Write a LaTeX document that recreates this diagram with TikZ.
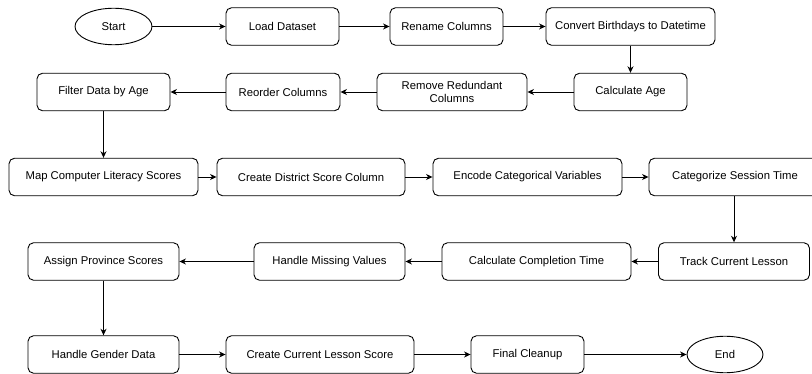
\documentclass[tikz,border=0pt]{standalone}
\usepackage{fontspec}
\setmainfont{Liberation Sans}
\usepackage{tikz}
\usetikzlibrary{
  arrows.meta,
  positioning,
  shapes.geometric
}
\tikzset{
  stepbox/.style={draw, rounded corners=5.5pt, line width=0.9pt,
    minimum height=37.5pt, inner sep=0pt,
    align=center, font=\fontsize{11.3}{12.5}\selectfont},
  termnode/.style={draw, ellipse, line width=0.9pt,
    minimum width=77pt, minimum height=36.5pt, inner sep=0pt,
    font=\fontsize{11.3}{12.5}\selectfont},
  arr/.style={-{Stealth[length=6.5pt, width=6pt, inset=2pt]}, line width=0.9pt},
}

\begin{document}
\begin{tikzpicture}[x=1pt, y=-1pt]
  \useasboundingbox (0,0) rectangle (812,374);

  % Row 1: start and loading
  \node[termnode] (start) at (113.5,26.5) {Start};
  \node[stepbox, minimum width=113pt] (load) at (282.5,26.5) {Load Dataset};
  \node[stepbox, minimum width=113pt] (rename) at (446.5,26.5) {Rename Columns};
  \node[stepbox, minimum width=169pt] (convert) at (630.5,26.5) {Convert Birthdays to Datetime};

  % Row 2: back to the left
  \node[stepbox, minimum width=113pt] (calcage) at (630.5,92) {Calculate Age};
  \node[stepbox, minimum width=150pt] (remove) at (452,92) {Remove Redundant\\Columns};
  \node[stepbox, minimum width=114pt] (reorder) at (283,92) {Reorder Columns};
  \node[stepbox, minimum width=133pt] (filter) at (103.5,92) {Filter Data by Age};

  % Row 3: scores and encoding
  \node[stepbox, minimum width=189pt] (mapcl) at (103.5,177) {Map Computer Literacy Scores};
  \node[stepbox, minimum width=188pt] (district) at (311,177) {Create District Score Column};
  \node[stepbox, minimum width=189pt] (encode) at (527.5,177) {Encode Categorical Variables};
  \node[stepbox, minimum width=172pt] (session) at (735,177) {Categorize Session Time};

  % Row 4: lessons and missing values
  \node[stepbox, minimum width=151pt] (track) at (734,261.5) {Track Current Lesson};
  \node[stepbox, minimum width=189pt] (completion) at (536.5,261.5) {Calculate Completion Time};
  \node[stepbox, minimum width=151pt] (missing) at (329.5,261.5) {Handle Missing Values};
  \node[stepbox, minimum width=151pt] (province) at (103.5,261.5) {Assign Province Scores};

  % Row 5: finishing
  \node[stepbox, minimum width=151pt] (gender) at (103.5,354.5) {Handle Gender Data};
  \node[stepbox, minimum width=188pt] (lessonscore) at (320,354.5) {Create Current Lesson Score};
  \node[stepbox, minimum width=113pt] (cleanup) at (527.5,354.5) {Final Cleanup};
  \node[termnode, minimum width=76pt] (endnode) at (725,354.5) {End};

  % Arrows
  \draw[arr] (start) -- (load);
  \draw[arr] (load) -- (rename);
  \draw[arr] (rename) -- (convert);
  \draw[arr] (convert) -- (calcage);
  \draw[arr] (calcage) -- (remove);
  \draw[arr] (remove) -- (reorder);
  \draw[arr] (reorder) -- (filter);
  \draw[arr] (filter) -- (mapcl);
  \draw[arr] (mapcl) -- (district);
  \draw[arr] (district) -- (encode);
  \draw[arr] (encode) -- (session);
  \draw[arr] (session.south -| track) -- (track);
  \draw[arr] (track) -- (completion);
  \draw[arr] (completion) -- (missing);
  \draw[arr] (missing) -- (province);
  \draw[arr] (province) -- (gender);
  \draw[arr] (gender) -- (lessonscore);
  \draw[arr] (lessonscore) -- (cleanup);
  \draw[arr] (cleanup) -- (endnode);
\end{tikzpicture}
\end{document}
